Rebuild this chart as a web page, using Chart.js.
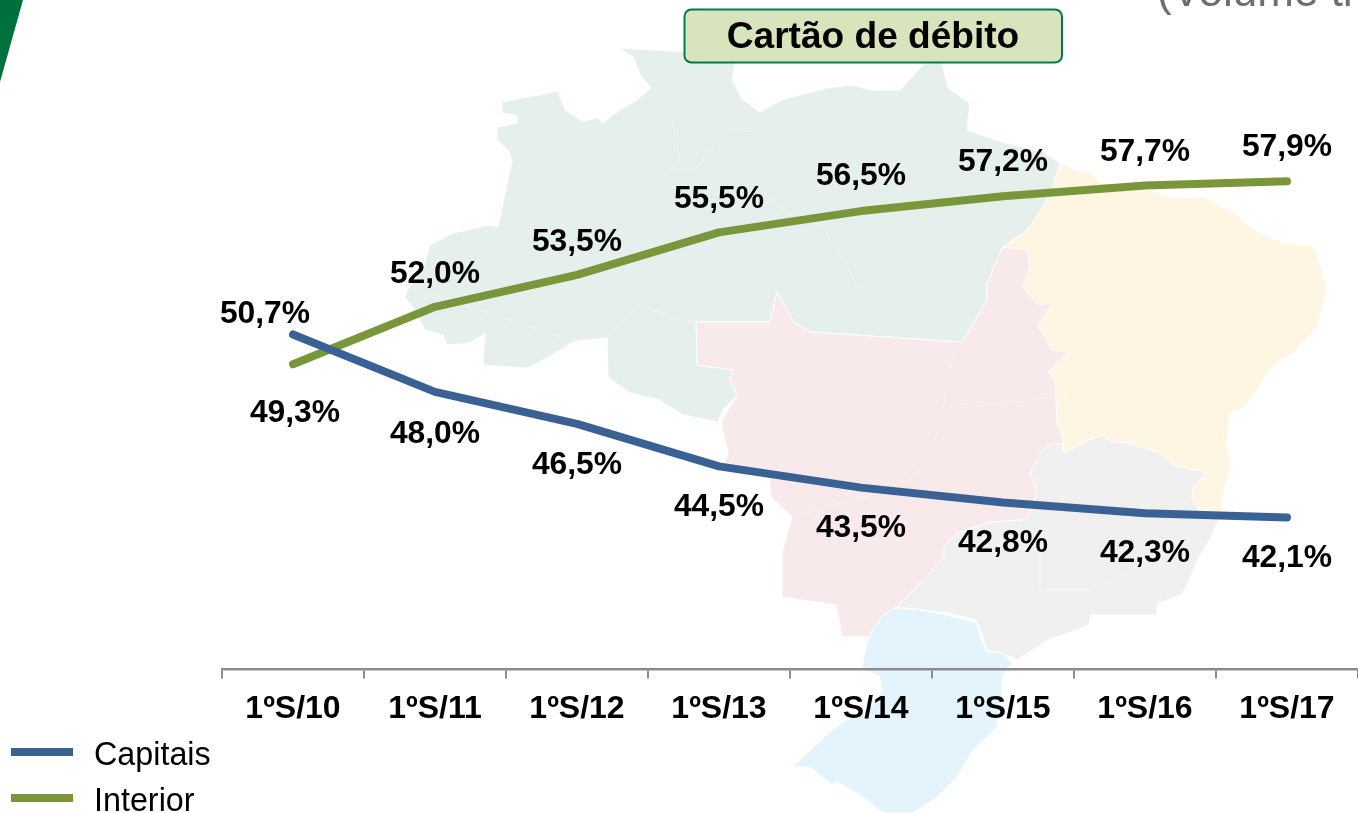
<!DOCTYPE html>
<html lang="pt">
<head>
<meta charset="utf-8">
<title>Cartão de débito</title>
<script src="https://cdn.jsdelivr.net/npm/chart.js@4"></script>
<style>
html,body{margin:0;padding:0;background:#fff;overflow:hidden;width:1358px;height:813px}
#wrap{position:relative;width:1358px;height:813px;overflow:hidden}
svg,canvas{position:absolute;left:0;top:0}
</style>
</head>
<body>
<div id="wrap">
<svg width="1358" height="813" viewBox="0 0 1358 813">
  <polygon fill="#00703C" points="0,0 23,0 0,82"/>
  <g stroke="#fff" stroke-width="1" stroke-linejoin="round">
  <polygon fill="#E5EFEB" points="620,48 634,58 640,75 651,88 637,100 617,112 602,123 598,117 583,122 565,110 558,91 502,102 502,113 517,115 517,123 497,127 497,140 508,150 512,160 498,227 488,225 453,233 430,245 423,270 407,290 405,297 413,307 425,330 443,335 447,345 470,343 485,333 483,365 527,368 547,358 573,342 607,338 608,377 630,393 660,400 683,415 718,422 723,410 737,395 730,380 733,370 697,365 696,322 770,322 777,292 794,323 810,332 962,342 987,300 987,283 1003,247 1027,230 1043,207 1053,187 1060,163 1043,152 1001,142 967,130 970,103 948,88 942,63 925,63 914,75 900,90 872,90 852,85 827,88 782,100 760,112 743,100 732,80 735,63 684,52"/>
  <polygon fill="#FFF5E3" points="1060,163 1080,172 1088,170 1100,183 1143,188 1173,198 1203,197 1233,212 1257,232 1283,243 1312,245 1317,253 1327,290 1317,327 1293,353 1277,362 1263,380 1245,407 1230,413 1227,443 1231,468 1223,493 1222,512 1200,510 1192,500 1193,488 1207,473 1173,465 1160,453 1128,443 1113,442 1103,435 1090,440 1063,453 1063,437 1057,423 1055,380 1048,372 1068,352 1052,350 1038,325 1050,308 1050,303 1038,305 1023,287 1030,267 1027,250 1003,247 1027,230 1043,207 1053,187"/>
  <polygon fill="#F8EAEA" points="1003,247 1027,250 1030,267 1023,287 1038,305 1050,303 1050,308 1038,325 1052,350 1068,352 1048,372 1055,380 1057,423 1063,437 1063,445 1052,443 1041,452 1030,473 1037,492 1030,513 1022,520 991,522 957,533 944,547 944,557 926,577 896,608 883,615 870,637 842,637 836,605 782,597 782,553 792,517 771,497 769,477 723,467 728,453 721,422 737,395 730,380 733,370 697,365 696,322 770,322 777,292 794,323 810,332 962,342 987,300 987,283"/>
  <polygon fill="#F0F0F0" points="1041,452 1052,443 1063,445 1063,453 1090,440 1103,435 1113,442 1128,443 1160,453 1173,465 1207,473 1193,488 1192,500 1200,510 1222,512 1211,537 1199,557 1195,567 1182,595 1158,603 1156,615 1132,615 1091,615 1089,625 1048,640 1017,660 1002,653 987,650 983,637 976,620 948,613 907,608 896,608 926,577 944,557 944,547 957,533 991,522 1022,520 1030,513 1037,492 1030,473"/>
  <polygon fill="#E3F4FD" points="895,608 920,610 947,615 977,623 980,637 987,652 1002,653 1012,662 1002,677 1002,693 997,727 973,750 957,777 937,797 913,813 883,813 863,797 837,782 832,785 810,767 792,767 830,732 843,722 870,708 882,690 880,677 862,668 867,643 873,628 883,615"/>
  </g>
  <g fill="none" stroke="#fff" stroke-opacity="0.3" stroke-width="1">
    <polyline points="410,287 570,340 607,338 640,305 680,320 696,322"/>
    <polyline points="655,88 672,120 680,160 670,170 695,170 725,130 760,132 760,190 790,215 822,225 860,290"/>
    <polyline points="955,345 945,400 930,460 900,488 850,500 800,515"/>
    <polyline points="1040,540 1040,590 1090,590 1190,540"/>
    <polyline points="960,400 1000,405 1060,395"/>
  </g>
</svg>
<canvas id="c" width="1358" height="813"></canvas>
</div>
<script>
const categories = ['1ºS/10','1ºS/11','1ºS/12','1ºS/13','1ºS/14','1ºS/15','1ºS/16','1ºS/17'];
const capitais = [50.7,48.0,46.5,44.5,43.5,42.8,42.3,42.1];
const interior = [49.3,52.0,53.5,55.5,56.5,57.2,57.7,57.9];
const capitaisOffsets = [[-28,-20],[0,42],[0,41],[0,41],[0,41],[0,41],[0,40],[0,41]];
const interiorOffsets = [[2,49],[0,-33],[0,-33],[0,-33],[0,-35],[0,-34],[0,-33],[0,-34]];
const BLUE = '#3A6194', GREEN = '#7A963A', FONT = '"Liberation Sans", Arial, sans-serif';

function pct(v){ return v.toFixed(1).replace('.', ',') + '%'; }

const annotations = {
  id:'annotations',
  afterDatasetsDraw(chart){
    const ctx = chart.ctx;
    ctx.save();
    // value labels
    ctx.font = 'bold 31.8px ' + FONT;
    ctx.fillStyle = '#000';
    ctx.textAlign = 'center';
    ctx.textBaseline = 'middle';
    [capitaisOffsets, interiorOffsets].forEach((offs, d) => {
      chart.getDatasetMeta(d).data.forEach((pt, i) => {
        ctx.fillText(pct(chart.data.datasets[d].data[i]), pt.x + offs[i][0], pt.y + offs[i][1]);
      });
    });
    // title box
    ctx.beginPath();
    ctx.roundRect(684.5, 9.5, 377.5, 53, 7);
    ctx.fillStyle = '#D8E4BC';
    ctx.fill();
    ctx.lineWidth = 2;
    ctx.strokeStyle = '#007A4D';
    ctx.stroke();
    ctx.fillStyle = '#000';
    ctx.font = 'bold 37.1px ' + FONT;
    ctx.fillText('Cartão de débito', 873, 38);
    // clipped subtitle
    ctx.textAlign = 'left';
    ctx.textBaseline = 'alphabetic';
    ctx.fillStyle = '#6E6E6E';
    ctx.font = '44px ' + FONT;
    ctx.fillText('(Volume tr', 1157, 6);
    // legend
    ctx.font = '32.3px ' + FONT;
    ctx.textBaseline = 'middle';
    chart.data.datasets.forEach((ds, i) => {
      const y = 752 + i * 46;
      ctx.fillStyle = ds.borderColor;
      ctx.fillRect(11, y - 4, 62, 8);
      ctx.fillStyle = '#000';
      ctx.fillText(ds.label, 94, y + 4.5);
    });
    ctx.restore();
  }
};

new Chart(document.getElementById('c'), {
  type:'line',
  data:{
    labels:categories,
    datasets:[
      {label:'Capitais', data:capitais, borderColor:BLUE, backgroundColor:BLUE},
      {label:'Interior', data:interior, borderColor:GREEN, backgroundColor:GREEN}
    ]
  },
  options:{
    responsive:false,
    animation:false,
    layout:{padding:{left:222,right:0,top:47.3,bottom:0}},
    elements:{
      line:{borderWidth:8,tension:0,borderCapStyle:'round',borderJoinStyle:'round'},
      point:{radius:0}
    },
    plugins:{legend:{display:false},title:{display:false},tooltip:{enabled:false}},
    scales:{
      x:{
        type:'category',
        offset:true,
        afterFit(s){ s.height = 143.5; },
        border:{display:true,color:'#8C8C8C',width:2.5},
        grid:{display:true,drawOnChartArea:false,drawTicks:true,tickLength:9,color:'#8C8C8C',lineWidth:2,offset:true},
        ticks:{color:'#000',font:{family:FONT,size:32,weight:'bold'},padding:11,maxRotation:0,autoSkip:false}
      },
      y:{display:false,min:34.95,max:64.2}
    }
  },
  plugins:[annotations]
});
</script>
</body>
</html>
